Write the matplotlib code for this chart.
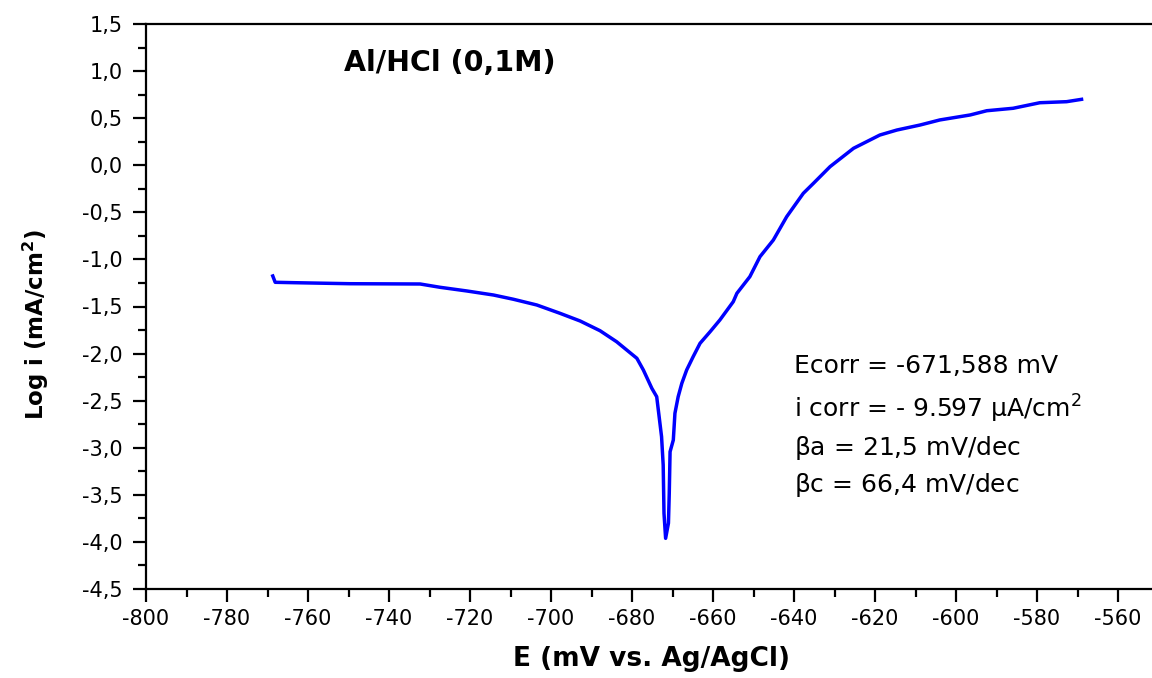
import matplotlib
matplotlib.use("Agg")
import matplotlib.pyplot as plt
from matplotlib.ticker import MultipleLocator, FuncFormatter

plt.rcParams['font.family'] = ['DejaVu Sans']
plt.rcParams['mathtext.fontset'] = 'dejavusans'

# Potential (mV vs Ag/AgCl)
E_mV = [-768.7, -768.1, -763.6, -749.6, -732.3, -727.4, -720.8, -714.2, -709.3,
        -703.5, -697.8, -692.8, -687.9, -683.8, -678.8, -677.2, -675.1, -673.9,
        -673.3, -672.7, -672.3, -672.1, -671.7, -671.0, -670.8, -670.6, -669.8,
        -669.4, -668.6, -667.7, -666.5, -664.9, -663.2, -660.7, -658.3, -655.0,
        -654.1, -650.9, -648.4, -645.1, -641.8, -637.7, -635.2, -631.1, -625.3,
        -618.8, -614.6, -608.9, -604.0, -596.5, -592.4, -585.9, -579.3, -572.7,
        -569.0]
# log current density (mA/cm2)
log_i = [-1.176, -1.243, -1.247, -1.258, -1.261, -1.296, -1.335, -1.378, -1.423,
         -1.484, -1.572, -1.654, -1.757, -1.874, -2.050, -2.174, -2.369, -2.458,
         -2.670, -2.883, -3.183, -3.696, -3.962, -3.800, -3.483, -3.042, -2.918,
         -2.634, -2.458, -2.316, -2.174, -2.033, -1.891, -1.767, -1.643, -1.449,
         -1.360, -1.183, -0.971, -0.794, -0.546, -0.298, -0.192, -0.015, 0.180,
         0.321, 0.374, 0.427, 0.481, 0.534, 0.579, 0.605, 0.664, 0.675,
         0.700]

title = "Al/HCl (0,1M)"
annotations = ["Ecorr = -671,588 mV",
               r"i corr = - 9.597 $\mathregular{\mu}$A/cm$^{2}$",
               r"$\mathregular{\beta}$a = 21,5 mV/dec",
               r"$\mathregular{\beta}$c = 66,4 mV/dec"]
annot_y = [-2.209, -2.677, -3.077, -3.467]

fig = plt.figure(figsize=(11.52, 6.78), dpi=100)
ax = fig.add_axes([146/1152, 1-589/678, 1-146/1152, (589-24)/678])

ax.plot(E_mV, log_i, color=(0, 0, 1), lw=2.5, solid_joinstyle='round')

ax.set_xlim(-800, -800 + (1152-146)/4.05)
ax.set_ylim(-4.5, 1.5)

ax.xaxis.set_major_locator(MultipleLocator(20))
ax.xaxis.set_minor_locator(MultipleLocator(10))
ax.yaxis.set_major_locator(MultipleLocator(0.5))
ax.yaxis.set_minor_locator(MultipleLocator(0.25))
ax.yaxis.set_major_formatter(FuncFormatter(lambda v, p: f"{v:.1f}".replace(".", ",").replace("-0,0", "0,0")))
ax.xaxis.set_major_formatter(FuncFormatter(lambda v, p: f"{v:.0f}"))

for s in ['left', 'bottom', 'top']:
    ax.spines[s].set_linewidth(1.6)
ax.spines['right'].set_visible(False)

ax.tick_params(which='major', direction='out', length=9.5, width=1.6, labelsize=15)
ax.tick_params(axis='y', which='major', pad=7)
ax.tick_params(axis='x', which='major', pad=5)
ax.tick_params(which='minor', direction='out', length=5.5, width=1.6)
ax.tick_params(top=False, right=False, which='both')

ax.set_xlabel("E (mV vs. Ag/AgCl)", fontsize=19, fontweight='bold')
ax.xaxis.set_label_coords(0.502, -0.100)
ax.set_ylabel(r"Log i (mA/cm$^{\mathbf{2}}$)", fontsize=16.5, fontweight='bold')
ax.yaxis.set_label_coords(-0.094, 0.467)

ax.text(-725.1, 1.091, title, fontsize=20.5, fontweight='bold', ha='center', va='center')

for t, yv in zip(annotations, annot_y):
    ax.text(-640.0, yv, t, fontsize=18, ha='left', va='baseline')

fig.savefig("out.png", dpi=100)
